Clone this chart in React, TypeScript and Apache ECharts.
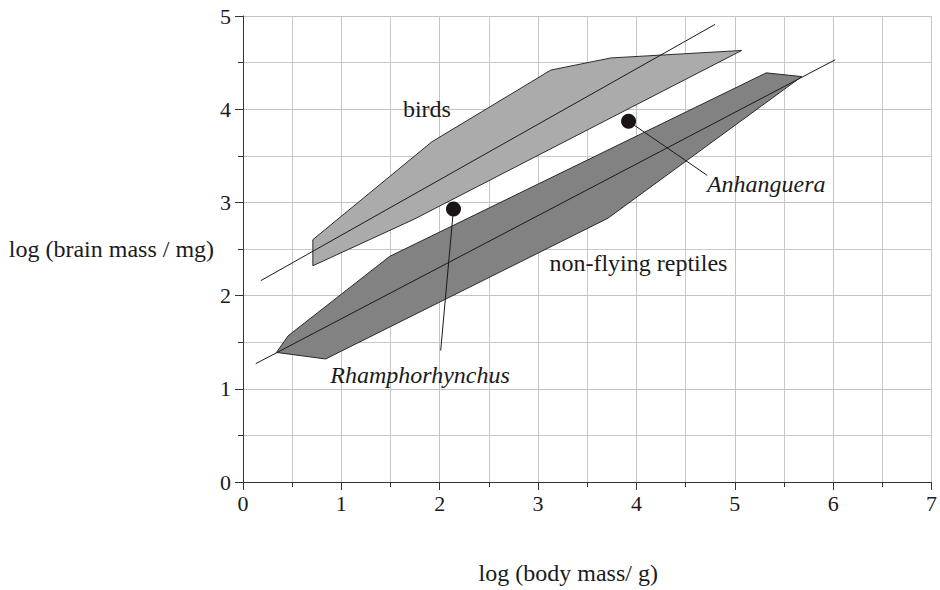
import React, { useEffect, useRef } from "react";
import * as echarts from "echarts";

// ---- data ----
const xTickValues = [0, 1, 2, 3, 4, 5, 6, 7];
const yTickValues = [0, 1, 2, 3, 4, 5];

const birdsPolygon: number[][] = [
  [0.71, 2.32], [0.71, 2.6], [1.92, 3.65], [3.13, 4.42], [3.74, 4.55], [5.07, 4.63], [1.74, 2.82],
];
const reptilesPolygon: number[][] = [
  [0.34, 1.39], [0.46, 1.57], [1.49, 2.42], [5.32, 4.39], [5.68, 4.35], [3.71, 2.83], [0.84, 1.32],
];
const birdsTrend: number[][] = [[0.18, 2.16], [4.8, 4.91]];
const reptilesTrend: number[][] = [[0.13, 1.27], [6.02, 4.53]];

const fossilNames = ["Rhamphorhynchus", "Anhanguera"];
const fossilPoints: number[][] = [[2.14, 2.93], [3.92, 3.87]];
const leaderEnds: number[][] = [[2.01, 1.41], [4.72, 3.29]];
const fossilLabelPos: number[][] = [[1.8, 1.15], [5.32, 3.2]];

const groupNames = ["birds", "non-flying reptiles"];
const groupLabelPos: number[][] = [[1.87, 4.0], [4.02, 2.35]];

const SERIF = "Liberation Serif";

export default function App() {
  const ref = useRef<HTMLDivElement>(null);

  useEffect(() => {
    document.body.style.margin = "0";
    if (!ref.current) return;
    const chart = echarts.init(ref.current, undefined, { renderer: "svg" });

    const polygonSeries = (poly: number[][], fill: string, name: string) => ({
      type: "custom",
      name,
      silent: true,
      z: 2,
      data: [0],
      renderItem: (_p: any, api: any) => ({
        type: "polygon",
        shape: { points: poly.map((pt) => api.coord(pt)) },
        style: { fill, stroke: "#1a1a1a", lineWidth: 0.9 },
      }),
    });

    const lineSeries = (pts: number[][], name: string) => ({
      type: "line",
      name,
      data: pts,
      symbol: "none",
      silent: true,
      z: 3,
      lineStyle: { color: "#1a1a1a", width: 1 },
    });

    const textItems = [
      ...groupNames.map((t, i) => ({ text: t, pos: groupLabelPos[i], italic: false })),
      ...fossilNames.map((t, i) => ({ text: t, pos: fossilLabelPos[i], italic: true })),
    ];

    const option: any = {
      animation: false,
      backgroundColor: "#ffffff",
      grid: { left: 243, right: 5, top: 16, bottom: 105, containLabel: false },
      xAxis: {
        type: "value",
        min: xTickValues[0],
        max: xTickValues[xTickValues.length - 1],
        interval: 1,
        name: "log (body mass/ g)",
        nameLocation: "middle",
        nameGap: 91,
        nameTextStyle: {
          fontFamily: SERIF,
          fontSize: 24,
          color: "#1a1a1a",
          verticalAlign: "middle",
          padding: [0, 38, 0, 0],
        },
        axisLine: { show: true, lineStyle: { color: "#333", width: 1 } },
        axisTick: { show: true, length: 8, lineStyle: { color: "#333" } },
        minorTick: { show: true, splitNumber: 2, length: 5, lineStyle: { color: "#333" } },
        splitLine: { show: true, lineStyle: { color: "#c4c4c4", width: 1 } },
        minorSplitLine: { show: true, lineStyle: { color: "#c8c8c8", width: 1 } },
        axisLabel: { fontFamily: SERIF, fontSize: 22, color: "#1a1a1a", margin: 10 },
      },
      yAxis: {
        type: "value",
        min: yTickValues[0],
        max: yTickValues[yTickValues.length - 1],
        interval: 1,
        name: "log (brain mass / mg)",
        nameLocation: "middle",
        nameRotate: 0,
        nameGap: 26,
        nameTextStyle: { fontFamily: SERIF, fontSize: 24, color: "#1a1a1a", align: "right" },
        axisLine: { show: true, lineStyle: { color: "#333", width: 1 } },
        axisTick: { show: true, length: 8, lineStyle: { color: "#333" } },
        minorTick: { show: true, splitNumber: 2, length: 5, lineStyle: { color: "#333" } },
        splitLine: { show: true, lineStyle: { color: "#c4c4c4", width: 1 } },
        minorSplitLine: { show: true, lineStyle: { color: "#c8c8c8", width: 1 } },
        axisLabel: { fontFamily: SERIF, fontSize: 22, color: "#1a1a1a", margin: 12 },
      },
      series: [
        polygonSeries(reptilesPolygon, "#828282", "non-flying reptiles"),
        polygonSeries(birdsPolygon, "#ababab", "birds"),
        lineSeries(birdsTrend, "birds trend"),
        lineSeries(reptilesTrend, "reptiles trend"),
        ...fossilPoints.map((p, i) => lineSeries([p, leaderEnds[i]], fossilNames[i] + " leader")),
        {
          type: "scatter",
          name: "fossils",
          data: fossilPoints.map((p, i) => ({ name: fossilNames[i], value: p })),
          symbol: "circle",
          symbolSize: 15,
          z: 4,
          itemStyle: { color: "#1a1414", opacity: 1 },
        },
        {
          type: "custom",
          name: "labels",
          silent: true,
          z: 5,
          data: textItems.map((_t, i) => i),
          renderItem: (params: any, api: any) => {
            const item = textItems[params.dataIndex];
            const [x, y] = api.coord(item.pos);
            return {
              type: "text",
              x,
              y,
              style: {
                text: item.text,
                fontFamily: SERIF,
                fontSize: 24,
                fontStyle: item.italic ? "italic" : "normal",
                fill: "#1a1a1a",
                align: "center",
                verticalAlign: "middle",
              },
            };
          },
        },
      ],
    };

    chart.setOption(option);
    return () => chart.dispose();
  }, []);

  return <div ref={ref} style={{ width: 940, height: 590 }} />;
}
